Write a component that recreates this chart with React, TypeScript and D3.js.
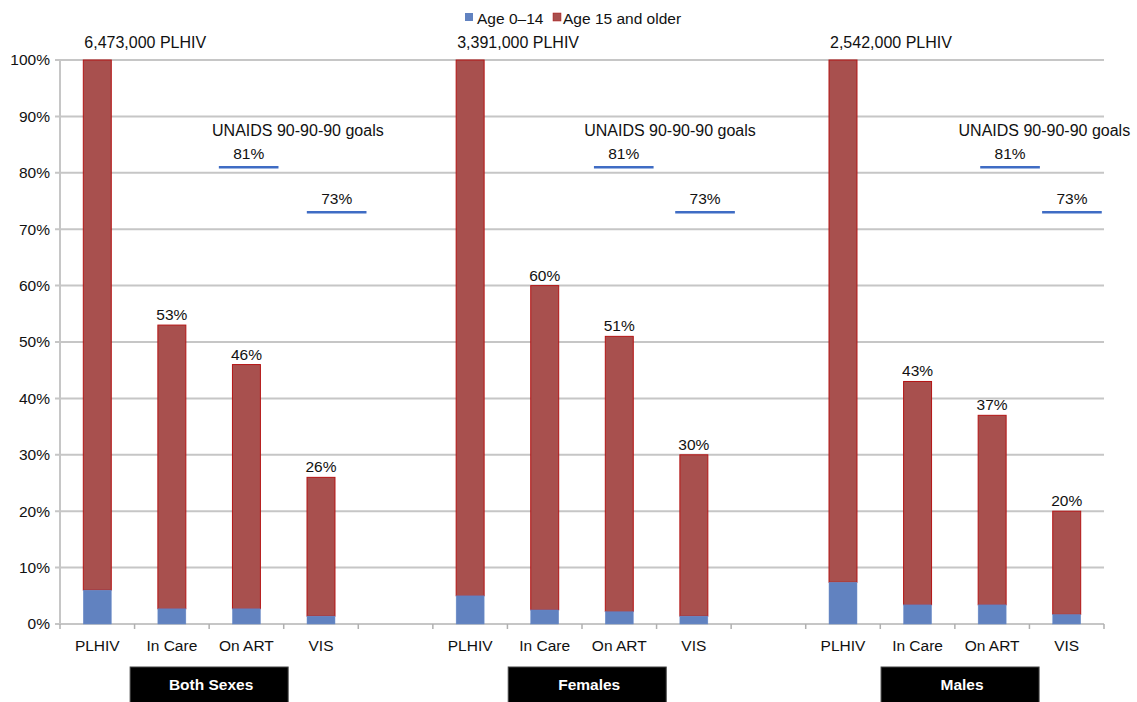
import React from "react";
import * as d3 from "d3";

const slots = [
  "PLHIV", "In Care", "On ART", "VIS", "",
  "PLHIV ", "In Care ", "On ART ", "VIS ", " ",
  "PLHIV  ", "In Care  ", "On ART  ", "VIS  ",
];
const barSlots = [0, 1, 2, 3, 5, 6, 7, 8, 10, 11, 12, 13];
const totals = [100, 53, 46, 26, 100, 60, 51, 30, 100, 43, 37, 20];
const child = [6.0, 2.7, 2.7, 1.4, 5.0, 2.5, 2.2, 1.4, 7.4, 3.4, 3.4, 1.7];
const groups = ["Both Sexes", "Females", "Males"];
const groupCenters = [2.0, 7.07, 12.07];
const plhivTotals = ["6,473,000 PLHIV", "3,391,000 PLHIV", "2,542,000 PLHIV"];
const plhivSlot = [0, 5, 10];
const goalValues = [81, 73];
const goalPos = [
  [2.53, 3.71],
  [7.56, 8.65],
  [12.74, 13.57],
];
const goalTitleX = [3.19, 8.18, 13.2];
const yTicks = [0, 10, 20, 30, 40, 50, 60, 70, 80, 90, 100];

const W = 1137, H = 702;
const m = { left: 60, right: 1104, top: 60, bottom: 624 };
const RED = "#a8504e";
const RED_EDGE = "#b41414";
const BLUE = "#6182c0";
const FONT = "'Liberation Sans', Arial, Helvetica, sans-serif";

export default function App() {
  const x = d3.scaleLinear().domain([0, slots.length]).range([m.left, m.right]);
  const y = d3.scaleLinear().domain([0, 100]).range([m.bottom, m.top]);
  const bw = (x(1) - x(0)) * 0.375;
  const goalW = (x(1) - x(0)) * 0.8;

  return (
    <svg width={W} height={H} style={{ position: "absolute", left: 0, top: 0, background: "#fff" }} fontFamily={FONT}>
      {/* grid */}
      {yTicks.map((t) => (
        <g key={t}>
          <line x1={m.left - 5} x2={m.right} y1={y(t)} y2={y(t)} stroke="#c6c6c6" strokeWidth={2} />
          <text x={m.left - 10} y={y(t)} dy="0.35em" textAnchor="end" fontSize={15.5} fill="#111">{t}%</text>
        </g>
      ))}
      <line x1={m.left} x2={m.left} y1={m.top} y2={m.bottom} stroke="#c6c6c6" strokeWidth={2} />
      {d3.range(slots.length + 1).map((i) => (
        <line key={i} x1={x(i)} x2={x(i)} y1={m.bottom} y2={m.bottom + 5} stroke="#b0b0b0" strokeWidth={1.5} />
      ))}
      {/* bars */}
      {barSlots.map((s, i) => {
        const cx = x(s + 0.5);
        return (
          <g key={i}>
            <rect x={cx - bw / 2} y={y(totals[i])} width={bw} height={y(child[i]) - y(totals[i])} fill={RED} stroke={RED_EDGE} strokeWidth={1} />
            <rect x={cx - bw / 2} y={y(child[i])} width={bw} height={y(0) - y(child[i])} fill={BLUE} stroke="#6a8cc8" strokeWidth={0.5} />
            {totals[i] < 100 && (
              <text x={cx} y={y(totals[i]) - 5} textAnchor="middle" fontSize={15.5} fill="#111">{totals[i]}%</text>
            )}
          </g>
        );
      })}
      {/* category labels */}
      {slots.map((c, i) => (
        <text key={i} x={x(i + 0.5)} y={651} textAnchor="middle" fontSize={15.5} fill="#111">{c.trim()}</text>
      ))}
      {/* PLHIV totals */}
      {plhivTotals.map((t, i) => (
        <text key={t} x={x(plhivSlot[i] + 0.5) - bw / 2 + 1} y={48} fontSize={16} fill="#111">{t}</text>
      ))}
      {/* goals */}
      {goalPos.map((g, gi) => (
        <g key={gi}>
          <text x={x(goalTitleX[gi])} y={136} textAnchor="middle" fontSize={16} fill="#111">UNAIDS 90-90-90 goals</text>
          {g.map((p, j) => (
            <g key={j}>
              <line x1={x(p) - goalW / 2} x2={x(p) + goalW / 2} y1={y(goalValues[j])} y2={y(goalValues[j])} stroke="#3f6cc4" strokeWidth={2.5} />
              <text x={x(p)} y={y(goalValues[j]) - 8} textAnchor="middle" fontSize={15.5} fill="#111">{goalValues[j]}%</text>
            </g>
          ))}
        </g>
      ))}
      {/* group boxes */}
      {groups.map((g, i) => (
        <g key={g}>
          <rect x={x(groupCenters[i]) - 79} y={667} width={158} height={40} fill="#000" stroke="#444" strokeWidth={1} />
          <text x={x(groupCenters[i]) + 2} y={690} textAnchor="middle" fontSize={15.5} fontWeight="bold" fill="#fff">{g}</text>
        </g>
      ))}
      {/* legend */}
      <g>
        <rect x={465} y={13} width={8} height={8} fill={BLUE} />
        <text x={477} y={24} fontSize={15.5} fill="#111">Age 0–14</text>
        <rect x={553} y={13} width={8} height={8} fill={RED} stroke={RED_EDGE} strokeWidth={0.5} />
        <text x={563} y={24} fontSize={15.5} fill="#111">Age 15 and older</text>
      </g>
    </svg>
  );
}
